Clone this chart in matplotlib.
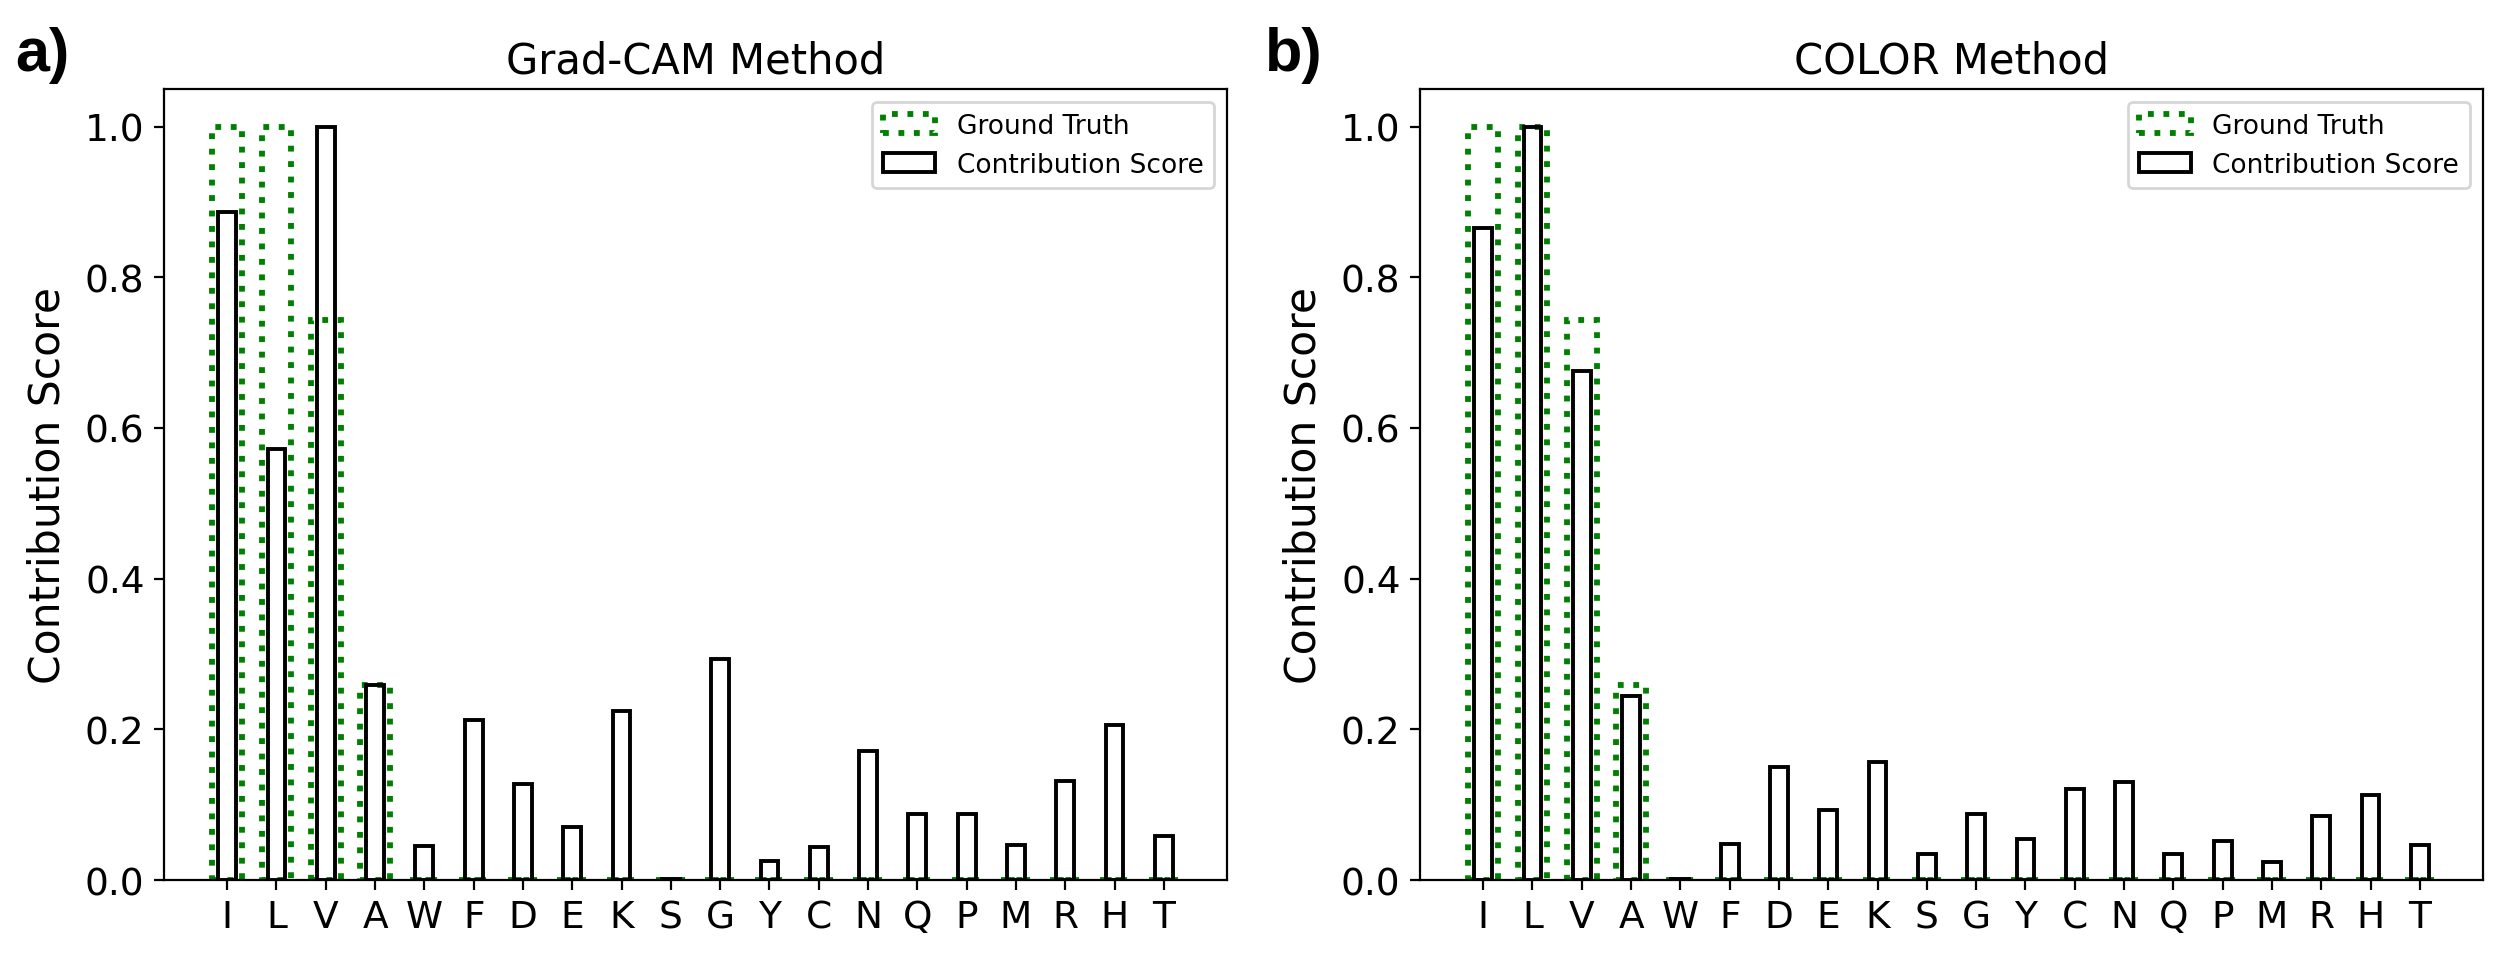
import matplotlib
matplotlib.use("Agg")
import matplotlib.pyplot as plt
import numpy as np

residues = ["I", "L", "V", "A", "W", "F", "D", "E", "K", "S",
            "G", "Y", "C", "N", "Q", "P", "M", "R", "H", "T"]

ground_truth = [1.0, 1.0, 0.743, 0.259, 0, 0, 0, 0, 0, 0,
                0, 0, 0, 0, 0, 0, 0, 0, 0, 0]

gradcam_scores = [0.887, 0.572, 1.0, 0.259, 0.045, 0.213, 0.127, 0.071, 0.225, 0.002,
                  0.293, 0.025, 0.044, 0.171, 0.088, 0.087, 0.047, 0.131, 0.206, 0.058]

color_scores = [0.865, 1.0, 0.676, 0.244, 0.002, 0.048, 0.150, 0.093, 0.156, 0.034,
                0.088, 0.054, 0.121, 0.130, 0.034, 0.052, 0.024, 0.085, 0.113, 0.046]

titles = ["Grad-CAM Method", "COLOR Method"]
panel_labels = ["a)", "b)"]

fig = plt.figure(figsize=(12.5, 4.77), dpi=200)
axes = [fig.add_axes([0.0656, 0.0765, 0.4252, 0.8292]),
        fig.add_axes([0.568, 0.0765, 0.4252, 0.8292])]

x = np.arange(len(residues))
for ax, scores, title in zip(axes, [gradcam_scores, color_scores], titles):
    ax.bar(x, ground_truth, width=0.6, fill=False, edgecolor="green",
           linestyle=":", linewidth=2.1, label="Ground Truth")
    ax.bar(x, scores, width=0.36, fill=False, edgecolor="black",
           linewidth=1.4, label="Contribution Score")
    ax.set_xticks(x)
    ax.set_xticklabels(residues)
    ax.tick_params(axis="both", labelsize=13.5)
    ax.set_ylabel("Contribution Score", fontsize=15.3, labelpad=6)
    ax.set_title(title, fontsize=15)
    ax.legend(loc="upper right", fontsize=9.5)

fig.text(0.006, 0.972, panel_labels[0], fontsize=22, fontweight="bold",
         family=["Liberation Sans", "DejaVu Sans"], va="top", ha="left")
fig.text(0.506, 0.972, panel_labels[1], fontsize=22, fontweight="bold",
         family=["Liberation Sans", "DejaVu Sans"], va="top", ha="left")

fig.savefig("out.png", dpi=200)
